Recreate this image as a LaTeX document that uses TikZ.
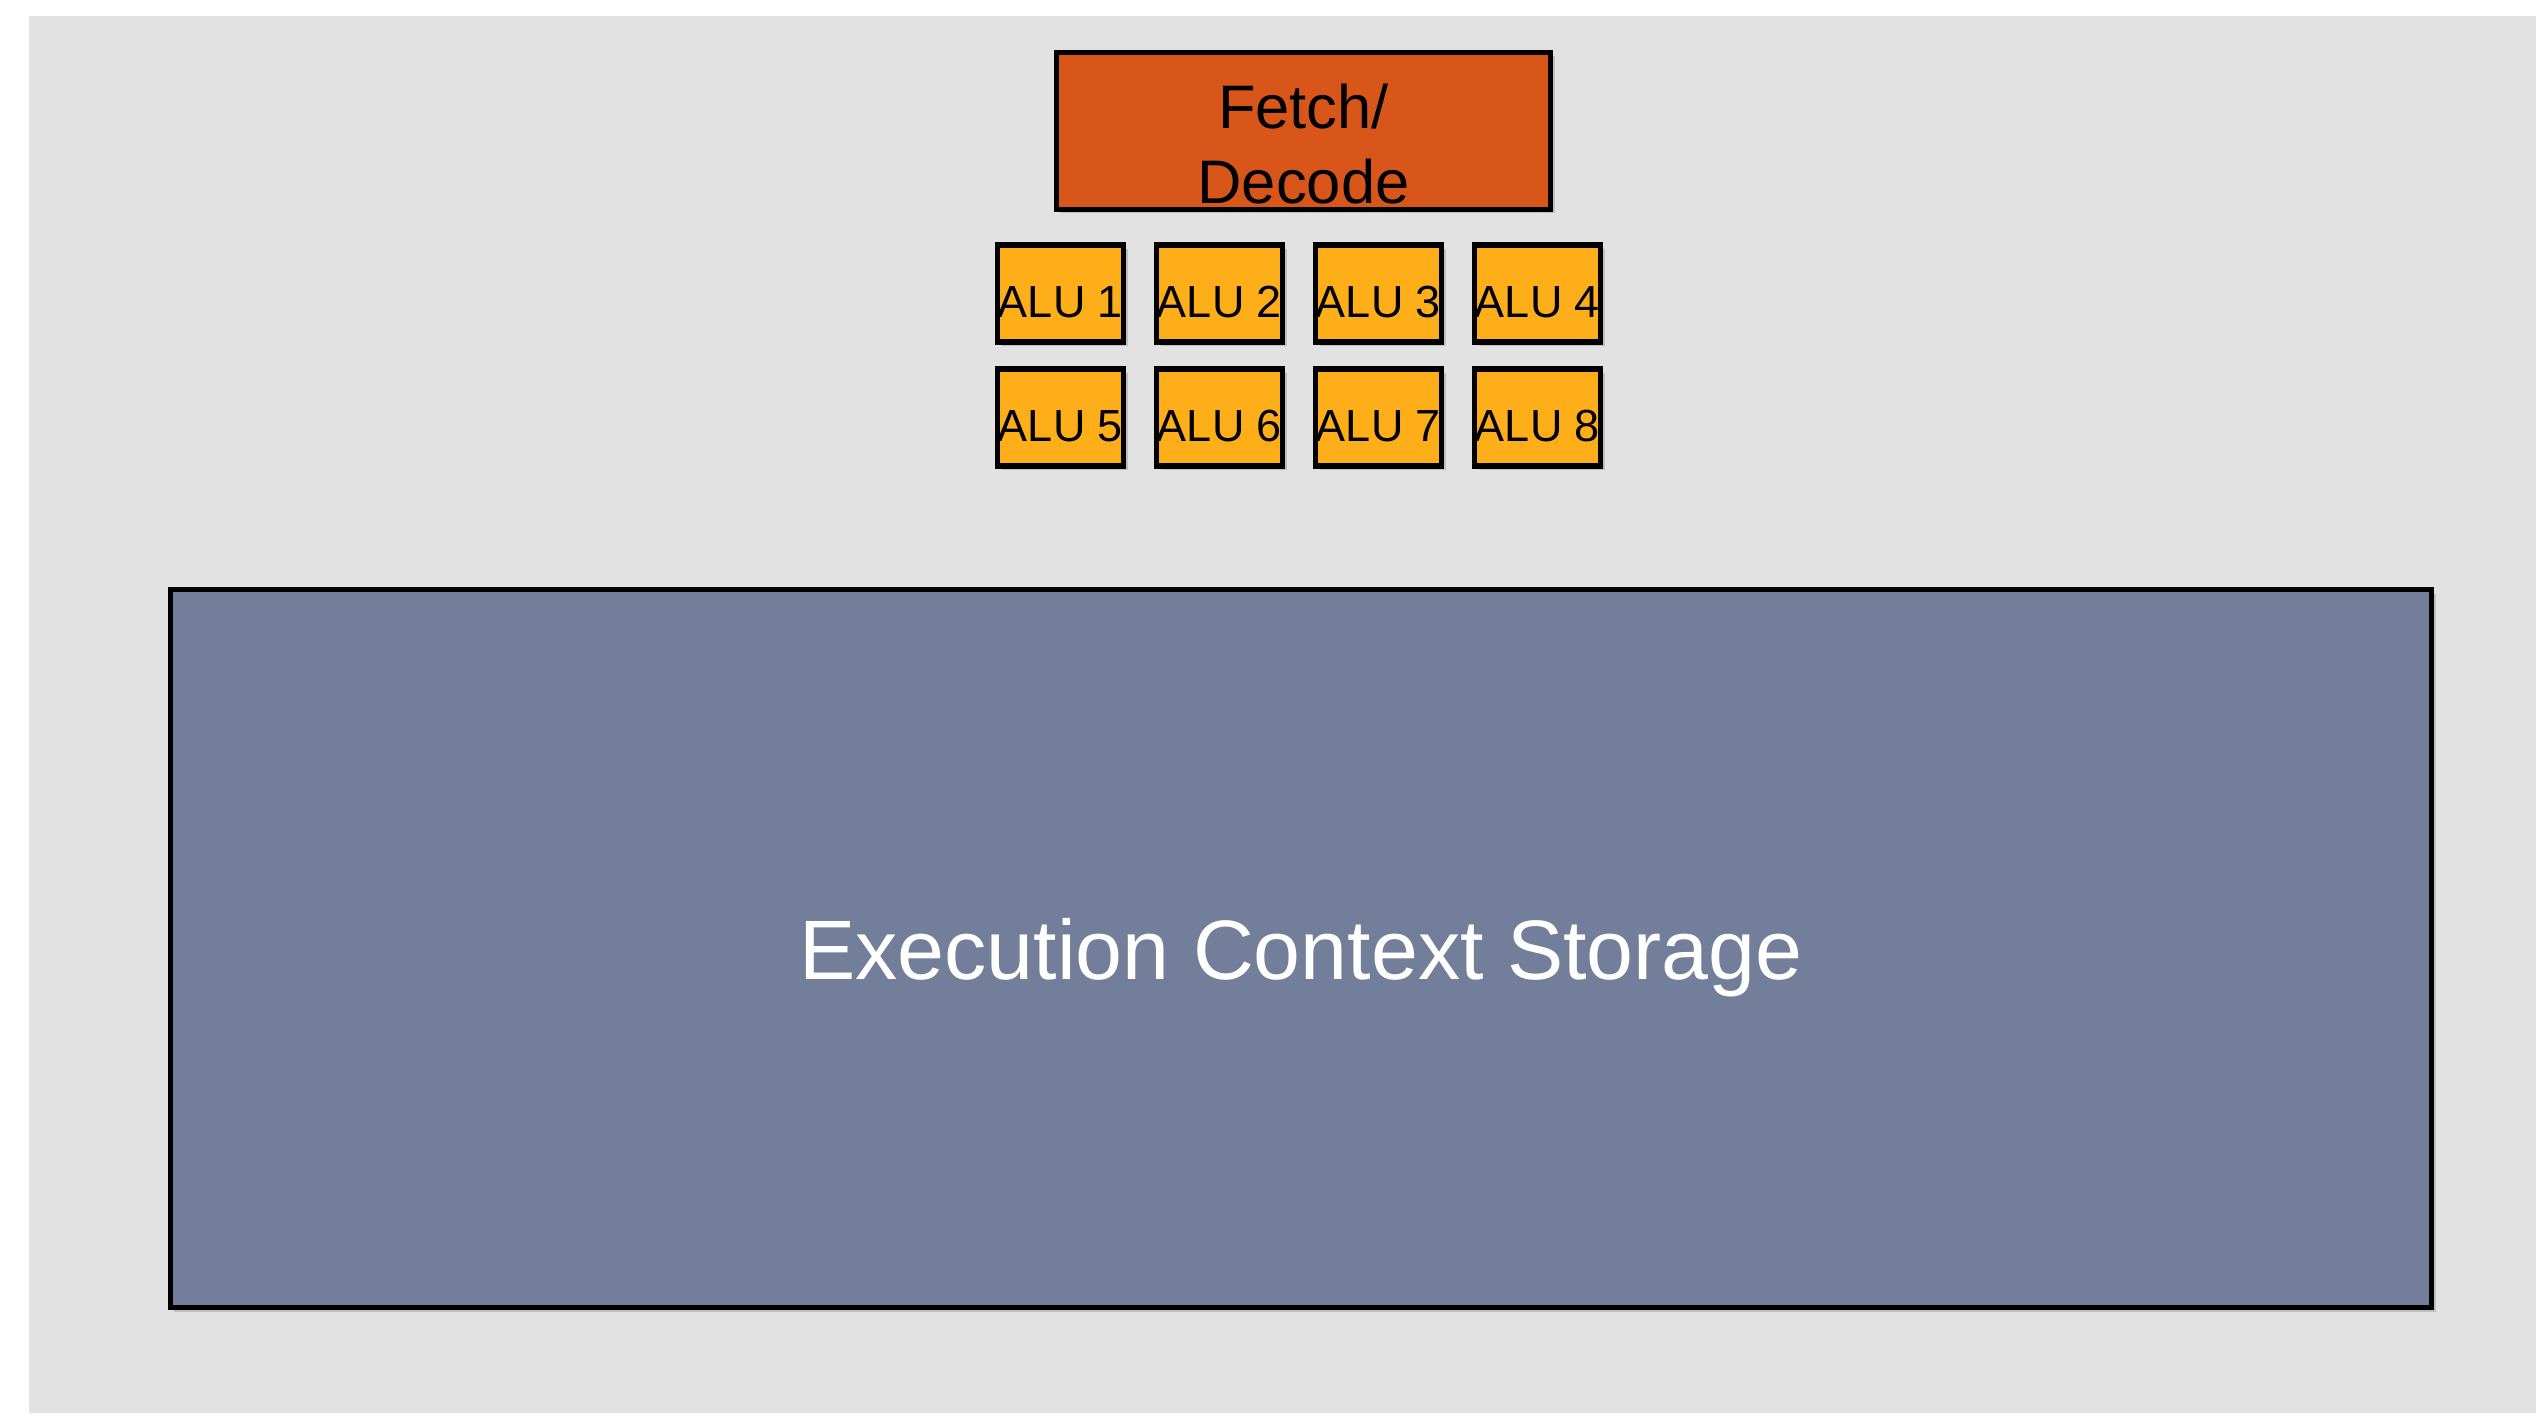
\documentclass[tikz,border=0pt]{standalone}
\usepackage{fontspec}
\setmainfont{Liberation Sans}
\usepackage{xcolor}
\usetikzlibrary{shadows}
\definecolor{coregray}{RGB}{226,226,226}
\definecolor{fetchorange}{RGB}{217,86,27}
\definecolor{aluyellow}{RGB}{253,174,25}
\definecolor{ctxblue}{RGB}{115,126,154}

\begin{document}
\begin{tikzpicture}[
    unit/.style={draw=black, line width=1.6pt, inner sep=0pt,
      drop shadow={shadow xshift=0.04cm, shadow yshift=-0.04cm, opacity=0.35}},
    alu/.style={unit, fill=aluyellow, minimum width=1.26cm, minimum height=0.97cm,
      text height=13.5pt, text depth=0pt, font=\fontsize{12.8}{14}\selectfont},
  ]
    % --- Page and core background ---
    \useasboundingbox (0,0) rectangle (25.36,14.13);
    \fill[coregray] (0.29,0) rectangle (25.36,13.97);
    % --- Fetch/Decode ---
    \node[unit, fill=fetchorange, minimum width=4.94cm, minimum height=1.57cm,
          label={[align=center, font=\fontsize{17.5}{21.6}\selectfont,
                  yshift=-0.13cm]center:{Fetch/\\Decode}}]
      (fetch) at (13.035,12.82) {};
    % --- ALUs (two rows of four) ---
    \foreach \i in {1,...,4} {
      \node[alu] (alu\i) at ({10.605+1.59*(\i-1)},11.195) {ALU \i};
      \pgfmathtruncatemacro{\j}{\i+4}
      \node[alu] (alu\j) at ({10.605+1.59*(\i-1)},9.955) {ALU \j};
    }
    % --- Execution context storage ---
    \node[unit, fill=ctxblue, minimum width=22.61cm, minimum height=7.18cm,
          text=white, text height=17.9pt, text depth=0pt,
          font=\fontsize{24}{28}\selectfont]
      (ctx) at (13.01,4.645) {Execution Context Storage};
\end{tikzpicture}
\end{document}
